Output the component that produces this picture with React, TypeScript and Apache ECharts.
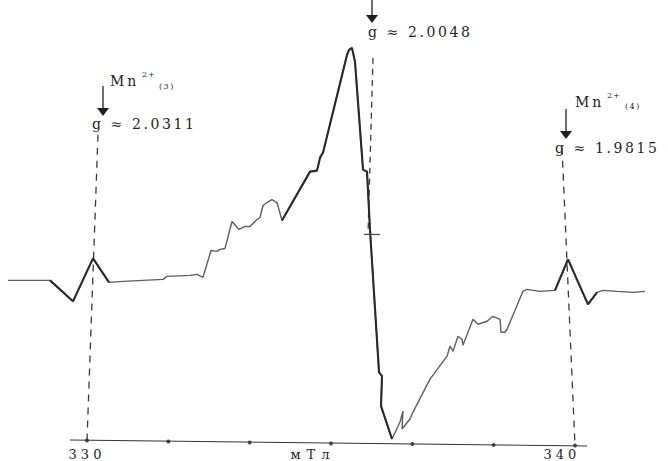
import { useEffect, useRef } from 'react';
import * as echarts from 'echarts';

// Magnetic field (mT) and EPR signal (arbitrary units)
const fieldMT = [
  328.381, 329.242, 329.713, 330.123, 330.451, 330.738, 331.148, 331.557, 331.639, 332.111,
  332.254, 332.377, 332.541, 332.664, 332.725, 332.828, 332.971, 333.115, 333.238, 333.340,
  333.484, 333.545, 333.607, 333.689, 333.791, 333.893, 333.996, 334.570, 334.713, 334.775,
  334.836, 335.328, 335.369, 335.430, 335.492, 335.656, 335.738, 335.799, 335.984, 336.045,
  336.025, 336.250, 336.414, 336.475, 336.455, 336.619, 336.680, 337.029, 337.377, 337.439,
  337.500, 337.602, 337.684, 337.705, 337.910, 338.012, 338.197, 338.320, 338.463, 338.484,
  338.566, 338.607, 338.934, 339.016, 339.283, 339.590, 339.857, 340.266, 340.451, 340.574,
  340.861, 341.189, 341.434,
];
const signal = [
  -1, -1, -22, 21, -3, -2, -1, 0, 3, 4,
  5, 2, 29, 28, 30, 31, 58, 50, 53, 53,
  60, 62, 74, 77, 80, 77, 59, 108, 109, 122,
  127, 225, 230, 232, 218, 110, 108, 50, -93, -97,
  -127, -160, -143, -132, -150, -140, -133, -100, -77, -67,
  -72, -57, -60, -66, -40, -45, -42, -37, -40, -53,
  -53, -50, -12, -10, -12, -11, 20, -25, -13, -11,
  -12, -13, -12,
];

// Index ranges of the trace drawn darker (Mn2+ lines and central line)
const mn3Range = [1, 4];
const centralRange = [26, 41];
const mn4Range = [65, 68];

// Marker (g-value) lines: [field, signal] end points
const mn3Marker = [[330.225, 145], [330.0, -161.5]];
const centralMarker = [[335.861, 222], [335.758, 45]];
const mn4Marker = [[339.734, 132], [340.0, -166.5]];
const centralCross = [[335.676, 45], [336.004, 45]];

// Field axis
const axisLineField = [329.65, 340.25];
const axisLineLevel = [-161, -167];
const axisDotField = [330, 331.667, 333.333, 335, 336.667, 338.333, 340];
const axisDotLevel = [-161.5, -162.5, -163.5, -164.5, -165, -166, -166.5];
const tickLabelPos = [330, 334.63, 339.73];
const tickLabels = ['330', 'мТл', '340'];

// Annotations
const gLabels = ['g ≈ 2.0311', 'g ≈ 2.0048', 'g ≈ 1.9815'];

const SERIF = '"DejaVu Serif", "Liberation Serif", serif';
const INK = '#1e1e1e';

function pts(a: number[], b: number[], from = 0, to = a.length - 1) {
  const out: number[][] = [];
  for (let i = from; i <= to; i++) out.push([a[i], b[i]]);
  return out;
}

function arrow(x: number, y1: number, y2: number) {
  return [
    { type: 'line', shape: { x1: x, y1, x2: x, y2: y2 - 4 }, style: { stroke: INK, lineWidth: 1.3 } },
    {
      type: 'polygon',
      shape: { points: [[x - 6, y2 - 8], [x + 6, y2 - 8], [x, y2]] },
      style: { fill: INK },
    },
  ];
}

function txt(text: string, x: number, y: number, size: number) {
  return {
    type: 'text',
    style: {
      text,
      x,
      y,
      fill: INK,
      font: `${size}px ${SERIF}`,
      textAlign: 'left',
      textVerticalAlign: 'middle',
      verticalAlign: 'middle',
    },
  };
}

export default function App() {
  const ref = useRef<HTMLDivElement>(null);
  useEffect(() => {
    if (!ref.current) return;
    const chart = echarts.init(ref.current, undefined, { renderer: 'svg' });
    const trace = pts(fieldMT, signal);
    const dark = (r: number[]) => ({
      type: 'line',
      data: pts(fieldMT, signal, r[0], r[1]),
      showSymbol: false,
      clip: false,
      silent: true,
      lineStyle: { color: '#2a2a2a', width: 2.1 },
      z: 3,
    });
    const dashed = (d: number[][], dash: number[]) => ({
      type: 'line',
      data: d,
      showSymbol: false,
      clip: false,
      silent: true,
      lineStyle: { color: '#3a3a3a', width: 1.3, type: dash },
      z: 1,
    });
    chart.setOption({
      animation: false,
      backgroundColor: '#fff',
      grid: { left: 4.04, width: 649.04, top: 0, height: 444 },
      xAxis: {
        type: 'value',
        min: 328.3,
        max: 341.6,
        splitLine: { show: false },
        axisLine: { show: false },
        axisTick: { show: false },
        axisLabel: {
          customValues: tickLabelPos,
          formatter: (v: number) => {
            const i = tickLabelPos.findIndex((p) => Math.abs(p - v) < 1e-6);
            return i >= 0 ? tickLabels[i] : '';
          },
          fontFamily: SERIF,
          fontSize: 13,
          color: INK,
          margin: 5,
        },
      },
      yAxis: { type: 'value', min: -164, max: 280, show: false },
      series: [
        {
          type: 'line',
          data: trace,
          showSymbol: false,
          clip: false,
          silent: true,
          lineStyle: { color: '#5e5e5e', width: 1.4 },
          z: 2,
        },
        dark(mn3Range),
        dark(centralRange),
        dark(mn4Range),
        dashed(mn3Marker, [7, 6]),
        dashed(centralMarker, [6, 5]),
        dashed(mn4Marker, [7, 6]),
        {
          type: 'line',
          data: centralCross,
          showSymbol: false,
          clip: false,
          silent: true,
          lineStyle: { color: '#444', width: 1.2 },
        },
        {
          type: 'line',
          data: pts(axisLineField, axisLineLevel),
          showSymbol: false,
          clip: false,
          silent: true,
          lineStyle: { color: '#333', width: 1 },
        },
        {
          type: 'scatter',
          data: pts(axisDotField, axisDotLevel),
          symbolSize: 4,
          clip: false,
          silent: true,
          itemStyle: { color: INK },
        },
      ],
      graphic: [
        ...arrow(103, 86, 116),
        ...arrow(372, 0, 23),
        ...arrow(566, 109, 139),
        txt('Mn', 110, 81, 14),
        txt('2+', 142, 74, 8),
        txt('(3)', 159, 86, 8),
        txt(gLabels[0], 92, 124, 14),
        txt(gLabels[1], 368, 32, 14),
        txt('Mn', 575, 102, 14),
        txt('2+', 607, 95, 8),
        txt('(4)', 625, 106, 8),
        txt(gLabels[2], 555, 148, 14),
      ].map((e) => ({ ...e, silent: true })),
    });
    const spacing: Record<string, number> = {
      '330': 4,
      '340': 4,
      'мТл': 6,
      Mn: 3,
      '2+': 1,
      '(3)': 1.5,
      '(4)': 1.5,
    };
    gLabels.forEach((g) => (spacing[g] = 2.6));
    ref.current.querySelectorAll('text').forEach((t) => {
      const s = spacing[(t.textContent || '').trim()];
      if (s) t.setAttribute('letter-spacing', String(s));
    });
    return () => chart.dispose();
  }, []);
  return (
    <div
      ref={ref}
      style={{ position: 'absolute', left: 0, top: 0, width: 668, height: 461, background: '#fff' }}
    />
  );
}
